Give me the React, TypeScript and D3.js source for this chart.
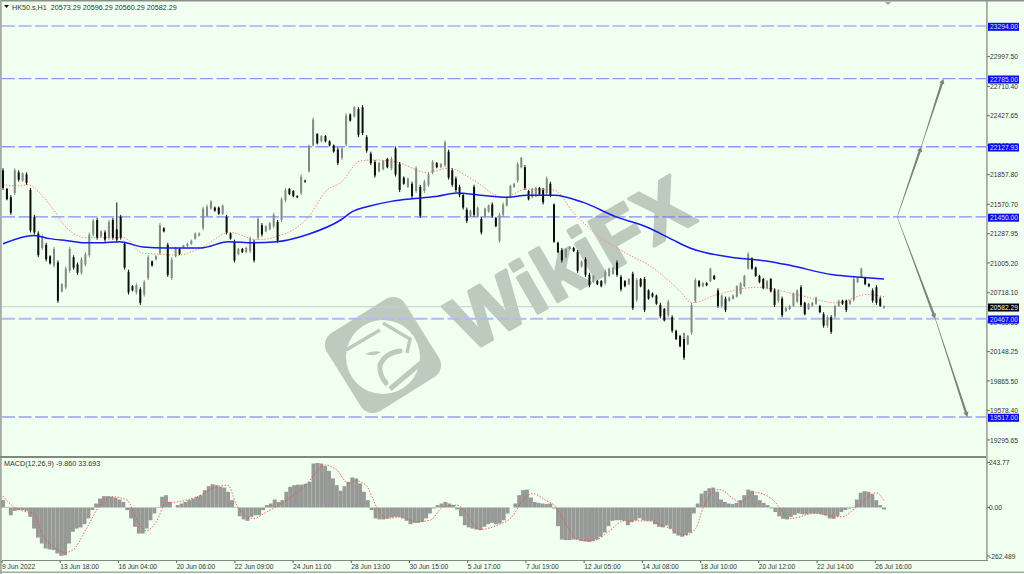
import React from "react";
import * as d3 from "d3";

const W = 1024, H = 574;

const titleText = "HK50.s,H1  20573.29 20596.29 20560.29 20582.29";
const macdText = "MACD(12,26,9) -9.860 33.693";

const highs = [
21920,21730,21660,21920,21900,21880,21880,21730,21470,21310,
21280,21200,21080,21160,21030,20810,20970,21160,21080,21010,
21060,21110,21300,21430,21440,21320,21320,21420,21440,21590,
21470,21210,20940,20790,20810,20770,20840,21080,21030,21080,
21390,21350,21200,21060,21160,21150,21180,21200,21230,21300,
21300,21550,21570,21610,21550,21550,21570,21470,21300,21230,
21150,21150,21160,21260,21230,21450,21390,21370,21400,21490,
21420,21640,21730,21730,21710,21660,21860,21810,22150,22410,
22260,22240,22240,22190,22150,22120,22130,22450,22450,22520,
22510,22530,22240,22080,22000,21980,22000,22020,22030,22130,
21980,21840,21830,21790,21940,21760,21810,21880,22000,21980,
21970,22190,22100,21920,21840,21760,21680,21540,21520,21760,
21550,21450,21540,21570,21590,21450,21490,21590,21640,21760,
21780,21980,22030,21950,21710,21730,21740,21740,21730,21840,
21790,21580,21210,21150,21150,21170,21160,21130,21030,21060,
20910,20890,20840,20840,20940,20960,20970,21030,20890,20840,
20860,20920,20860,20860,20870,20750,20720,20700,20620,20570,
20650,20500,20360,20310,20330,20310,20620,20860,20840,20820,
20820,20960,20890,20760,20700,20680,20680,20700,20790,20820,
20890,21110,21060,20970,20890,20860,20840,20860,20760,20750,
20680,20580,20600,20720,20750,20790,20630,20620,20630,20680,
20600,20530,20500,20500,20600,20650,20650,20650,20650,20870,
20870,20960,20870,20810,20760,20790,20680,20596];

const lows = [
21710,21610,21470,21660,21790,21790,21760,21300,21280,21060,
21130,21020,20990,20960,20620,20720,20750,20910,20940,20890,
20890,20970,21060,21260,21230,21250,21210,21230,21230,21200,
21230,20940,20700,20730,20700,20600,20680,20840,20970,21030,
21080,21300,20870,20840,21060,21080,21150,21160,21180,21230,
21260,21320,21450,21520,21500,21470,21470,21280,21230,21010,
21080,21100,21100,21100,21010,21230,21260,21300,21320,21340,
21200,21400,21590,21660,21640,21630,21660,21780,21880,22130,
22150,22170,22170,22130,22070,21950,22000,22130,22370,22410,
22220,22240,22070,21950,21830,21880,21900,21920,21900,21840,
21690,21760,21730,21630,21680,21440,21680,21740,21860,21920,
21920,21930,21810,21740,21690,21640,21520,21390,21450,21450,
21440,21280,21440,21490,21440,21350,21200,21450,21550,21630,
21730,21780,21920,21710,21610,21630,21640,21660,21570,21660,
21640,21200,21100,21010,21050,21130,21110,20910,20960,20870,
20770,20810,20790,20770,20790,20870,20890,20870,20730,20770,
20790,20550,20630,20770,20530,20650,20670,20600,20470,20440,
20480,20330,20260,20190,20070,20210,20310,20620,20770,20770,
20780,20820,20840,20570,20570,20530,20630,20650,20670,20700,
20770,20940,20940,20870,20810,20750,20750,20720,20580,20620,
20480,20530,20550,20580,20620,20580,20500,20550,20580,20600,
20520,20380,20380,20320,20470,20580,20600,20530,20600,20630,
20810,20860,20790,20770,20620,20600,20580,20560];

const opens = [
21900,21720,21640,21680,21880,21800,21860,21710,21450,21290,
21150,21180,21070,20980,21010,20730,20770,20930,21060,20990,
20910,20990,21080,21280,21420,21260,21300,21250,21420,21330,
21450,21190,20920,20780,20720,20750,20700,20860,21020,21040,
21100,21340,21180,20860,21070,21140,21155,21170,21190,21240,
21270,21340,21460,21530,21540,21540,21480,21450,21290,21210,
21090,21140,21110,21120,21210,21250,21370,21310,21330,21360,
21400,21420,21610,21720,21700,21650,21680,21800,21890,22140,
22250,22180,22230,22180,22140,22100,22020,22150,22440,22420,
22490,22510,22220,22060,21980,21890,21910,22010,21920,22110,
21960,21830,21740,21770,21700,21740,21700,21760,21880,21970,
21930,21950,22080,21900,21820,21740,21660,21520,21460,21740,
21450,21430,21450,21500,21570,21440,21220,21470,21560,21640,
21740,21800,21930,21930,21700,21640,21650,21730,21710,21680,
21770,21570,21200,21130,21060,21140,21150,21110,20970,21040,
20890,20820,20830,20830,20810,20880,20900,21010,20870,20830,
20800,20900,20650,20850,20850,20740,20710,20690,20600,20560,
20500,20480,20350,20300,20270,20220,20330,20640,20830,20780,
20810,20830,20880,20740,20590,20660,20640,20660,20680,20710,
20780,20950,21050,20960,20880,20850,20760,20850,20740,20640,
20660,20540,20560,20590,20630,20770,20620,20560,20590,20610,
20590,20510,20400,20480,20490,20590,20640,20640,20610,20650,
20820,20870,20860,20800,20740,20770,20660,20573];

const closes = [
21730,21620,21490,21900,21810,21870,21780,21320,21300,21080,
21260,21040,21000,21140,20640,20800,20950,21140,20960,20910,
21040,21090,21280,21410,21250,21310,21230,21400,21250,21230,
21250,20960,20720,20740,20790,20620,20820,21060,20980,21070,
21370,21310,20890,21040,21150,21090,21175,21190,21220,21290,
21290,21530,21550,21600,21510,21480,21560,21300,21240,21030,
21140,21110,21150,21240,21030,21430,21280,21360,21390,21470,
21220,21620,21710,21670,21650,21640,21840,21790,22130,22390,
22160,22230,22180,22140,22080,21970,22110,22430,22380,22510,
22240,22260,22090,21970,21850,21970,21990,21930,22010,21860,
21710,21770,21820,21650,21920,21460,21790,21860,21980,21930,
21960,22170,21830,21760,21710,21660,21540,21410,21510,21470,
21540,21300,21530,21560,21460,21360,21470,21570,21630,21750,
21770,21960,22020,21730,21620,21720,21730,21670,21590,21820,
21660,21210,21110,21030,21140,21160,21120,20930,21020,20890,
20790,20880,20800,20780,20920,20950,20960,20890,20750,20780,
20850,20570,20840,20780,20550,20660,20680,20610,20490,20450,
20630,20350,20270,20200,20090,20300,20600,20840,20780,20810,
20790,20950,20850,20590,20690,20550,20670,20690,20780,20810,
20880,21090,20950,20880,20820,20760,20830,20730,20600,20740,
20500,20570,20590,20710,20740,20600,20510,20610,20620,20670,
20530,20400,20480,20340,20590,20640,20610,20550,20640,20850,
20860,20950,20800,20780,20640,20620,20590,20582];

const slowMaBars = [0,8,12,16.5,21,25,30,36,42,46.5,51,58,64.5,70.5,78.5,87,90,94,100,107,112,117,123,130,135,142,149.5,158,166,172.5,177,187.5,197.5,203,214,220,227];
const slowMaPrices = [21190,21270,21240,21220,21200,21200,21210,21160,21150,21150,21150,21210,21200,21210,21280,21420,21500,21550,21600,21630,21650,21680,21660,21640,21660,21660,21590,21450,21350,21230,21150,21060,21020,20980,20890,20870,20850];

const fastMaBars = [0,3.5,6.5,9.5,13,16.5,21.5,25,31,36,40.5,45,51,58.5,65.5,70.5,78.5,83.5,87,92,95.5,101.5,109,115,121,129,135,142,147,154,160,167,174.5,177.5,184,194.5,204.5,215,222.5,227];
const fastMaPrices = [21760,21750,21760,21680,21520,21340,21250,21250,21250,21100,21090,21080,21150,21300,21230,21260,21440,21710,21780,21990,22000,21980,21880,21920,21810,21640,21720,21710,21490,21250,21110,20970,20730,20620,20700,20770,20700,20620,20700,20680];

const macdHist = [
37,3,-39,-17,-13,-13,-17,-47,-106,-151,-181,-206,-211,-214,-231,-243,-240,-181,-122,-106,
-100,-84,-55,-13,20,45,57,57,54,49,40,28,-13,-55,-97,-131,-131,-106,-64,-30,
3,54,62,28,0,12,20,28,37,45,54,62,87,107,117,112,104,100,79,37,
3,-44,-60,-67,-47,-39,-39,-13,12,20,40,28,37,79,104,112,115,115,120,129,
221,224,221,208,184,146,112,84,107,129,151,146,121,79,37,-13,-55,-60,-60,-55,
-50,-47,-47,-55,-67,-84,-77,-77,-72,-55,-30,-5,12,20,28,20,12,-10,-44,-89,
-100,-106,-111,-114,-97,-84,-77,-84,-80,-64,-30,0,20,62,87,90,50,28,23,20,
17,20,-5,-94,-161,-164,-164,-161,-161,-168,-171,-173,-168,-161,-147,-126,-94,-67,-64,-64,
-67,-89,-74,-64,-54,-64,-67,-67,-84,-97,-100,-90,-107,-131,-141,-147,-139,-127,-30,20,
70,84,97,100,79,40,28,20,17,23,37,62,90,84,62,37,23,12,-5,-23,
-44,-57,-60,-47,-37,-30,-34,-34,-30,-30,-30,-34,-40,-55,-57,-44,-23,-13,-5,3,
40,74,82,79,67,37,12,-9.86];

const signalBars = [0,3,5,8,10,13,16,18,21.5,25,28,32,34.5,37,39.5,42,45,50,55,58,60,64.5,68,73,78,83,86,89,91,93.5,96.5,99,102.5,106.5,110,113.5,117,123,128,131,134,136.5,140,142,146,148,152,156,160,166,170,176,178.5,180.5,184.5,190,194,198,203,209,216,220,225,227];
const signalValues = [57,0,-17,-30,-131,-198,-226,-214,-106,12,54,37,-64,-117,-72,23,28,54,104,112,20,-55,-22,37,112,213,188,121,134,112,-5,-55,-47,-72,-64,3,12,-110,-84,-50,37,70,34,12,-114,-161,-168,-122,-67,-67,-89,-139,-105,3,90,28,75,45,-55,-30,-47,3,74,33.693];

const levels = [23294, 22785, 22127.93, 21450, 20467, 19517];
const levelLabels = ["23294.00", "22785.00", "22127.93", "21450.00", "20467.00", "19517.00"];
const levelColors = ["#7F88FA", "#767EFC", "#8D98FC", "#6A72F0", "#AEBCF8", "#6A72DC"];
const levelWidths = [1, 1, 1.6, 1, 2, 1];

const priceTicks = [22997.5, 22710.4, 22427.65, 22142.95, 21857.8, 21570.7, 21287.95, 21005.2, 20718.1, 20435.35, 20148.25, 19865.5, 19578.4, 19295.65];
const lastPrice = 20582.29;

const timeTickBars = [0, 15, 30, 45, 60, 75, 90, 105, 120, 135, 150, 165, 180, 195, 210, 225];
const timeLabels = ["9 Jun 2022", "13 Jun 18:00", "16 Jun 04:00", "20 Jun 06:00", "22 Jun 09:00", "24 Jun 11:00", "28 Jun 13:00", "30 Jun 15:00", "5 Jul 17:00", "7 Jul 19:00", "12 Jul 05:00", "14 Jul 08:00", "18 Jul 10:00", "20 Jul 12:00", "22 Jul 14:00", "26 Jul 16:00"];

const macdTicks = [243.77, 0];
const macdMinLabel = -262.489;

const upArrowBars = [230.4, 236.6, 242.3];
const upArrowPrices = [21450, 22127.93, 22785];
const downArrowBars = [230.4, 240.2, 248.5];
const downArrowPrices = [21450, 20467, 19517];

const x = d3.scaleLinear().domain([0, 227]).range([3, 884]);
const candleX = d3.scaleLinear().domain([0, 78, 111, 141, 174, 227]).range([3, 309, 445, 554, 684, 884]);
const y = d3.scaleLinear().domain([19517, 23294]).range([417, 26]);
const my = d3.scaleLinear().domain([-262.489, 243.77]).range([559.7, 459]);

const lineOf = (bars: number[], vals: number[], sy: (v: number) => number) =>
  d3.line<number>().x((b) => x(b)).y((_, i) => sy(vals[i])).curve(d3.curveMonotoneX)(bars) || "";

const BG = "#F0FFF0";
const WM = "#BFCABF";
const font = "'Liberation Sans', Arial, sans-serif";

function taper(x0: number, y0: number, x1: number, y1: number) {
  const len = Math.hypot(x1 - x0, y1 - y0);
  const ux = (x1 - x0) / len, uy = (y1 - y0) / len;
  const nx = -uy, ny = ux;
  const w0 = 0.25, w1 = 1.2, h = 5, hw = 2.6;
  const bx = x1 - ux * h, by = y1 - uy * h;
  const p = [
    [x0 + nx * w0, y0 + ny * w0],
    [bx + nx * w1, by + ny * w1],
    [bx + nx * hw, by + ny * hw],
    [x1, y1],
    [bx - nx * hw, by - ny * hw],
    [bx - nx * w1, by - ny * w1],
    [x0 - nx * w0, y0 - ny * w0],
  ];
  return p.map((q) => q[0].toFixed(1) + "," + q[1].toFixed(1)).join(" ");
}

function Arrow({ bars, prices }: { bars: number[]; prices: number[] }) {
  return (
    <g fill="#7E827E">
      {bars.slice(1).map((b, i) => (
        <polygon key={i} points={taper(x(bars[i]), y(prices[i]), x(b), y(prices[i + 1]))} />
      ))}
    </g>
  );
}

function Watermark() {
  return (
    <g>
      <rect x={-46} y={-46} width={92} height={92} rx={14} fill={WM} transform="translate(383,355) rotate(-32)" />
      <g transform="translate(383,357)">
        <circle cx={0} cy={0} r={37} fill={BG} />
        <path d="M-37,-7 L-3,-27" fill="none" stroke={WM} strokeWidth={3.5} />
        <path d="M0,-34 L27,-18 L24,-4" fill="none" stroke={WM} strokeWidth={3.5} />
        <path d="M17,-6 Q2,-4 -3,8 Q-4,18 3,26" fill="none" stroke={WM} strokeWidth={5} strokeLinecap="round" />
        <path d="M38,6 L7,32" fill="none" stroke={WM} strokeWidth={5} />
        <path d="M-18,-3 Q-10,-7 -2,-5 Q-8,0 -18,-3 Z" fill={WM} />
      </g>
      <text
        transform="translate(469,353) rotate(-30)"
        fontFamily={font}
        fontWeight={700}
        fontSize={78}
        textLength={265}
        lengthAdjust="spacing"
        fill={WM}
        stroke={WM}
        strokeWidth={3}
        strokeLinejoin="round"
      >
        WikiFX
      </text>
    </g>
  );
}

export default function App() {
  return (
    <svg
      width={W}
      height={H}
      viewBox={`0 0 ${W} ${H}`}
      style={{ position: "absolute", left: 0, top: 0, display: "block", background: BG }}
    >
      <defs>
        <filter id="soft" x="-2%" y="-2%" width="104%" height="104%">
          <feGaussianBlur stdDeviation="0.35" />
        </filter>
      </defs>

      <rect x={0} y={0} width={W} height={1.5} fill="#8A8F8A" />
      <rect x={0} y={0} width={1.8} height={H} fill="#A4ACA4" />
      <rect x={0} y={571.5} width={W} height={1.5} fill="#A4ACA4" />

      <Watermark />

      <line x1={2} x2={986} y1={y(lastPrice)} y2={y(lastPrice)} stroke="#C6CFC6" strokeWidth={1} />

      {levels.map((l, i) => (
        <line key={l} x1={2} x2={986} y1={y(l)} y2={y(l)} stroke={levelColors[i]} strokeWidth={levelWidths[i]} strokeDasharray="13,3.5" />
      ))}

      <path d={lineOf(fastMaBars, fastMaPrices, y)} fill="none" stroke="#FF8270" strokeWidth={1} strokeDasharray="1.4,1.6" />

      <g filter="url(#soft)">
        {closes.map((c, i) => {
          const up = c >= opens[i];
          const col = up ? "#858A85" : "#111";
          const top = y(Math.max(c, opens[i]));
          const bot = y(Math.min(c, opens[i]));
          return (
            <g key={i}>
              <line x1={candleX(i)} x2={candleX(i)} y1={y(highs[i])} y2={y(lows[i])} stroke={col} strokeWidth={1} />
              <rect x={candleX(i) - 1} y={top} width={2} height={Math.max(bot - top, 1)} fill={col} />
            </g>
          );
        })}
      </g>

      <path d={lineOf(slowMaBars, slowMaPrices, y)} fill="none" stroke="#1818EC" strokeWidth={1.5} />

      <Arrow bars={upArrowBars} prices={upArrowPrices} />
      <Arrow bars={downArrowBars} prices={downArrowPrices} />

      <polygon points="885,2 891,2 888,5" fill="#A0A4A0" />
      <polygon points="4,5 9,5 6.5,8" fill="#111" />
      <text x={12} y={10} fontFamily={font} fontSize={7.2} fill="#333" xmlSpace="preserve">{titleText}</text>

      <rect x={0} y={456} width={987} height={2} fill="#808A80" />

      {macdHist.map((v, i) => (
        <line key={i} x1={x(i)} x2={x(i)} y1={my(0)} y2={my(v)} stroke="#969996" strokeWidth={3.9} />
      ))}
      <path d={lineOf(signalBars, signalValues, my)} fill="none" stroke="#F24A3C" strokeWidth={0.9} strokeDasharray="1.4,1.6" />
      <text x={4} y={466} fontFamily={font} fontSize={7.2} fill="#333">{macdText}</text>

      <rect x={986} y={1} width={1.8} height={560} fill="#A4ACA4" />
      <rect x={1.8} y={560} width={986} height={1} fill="#808A80" />

      {priceTicks.map((t) => (
        <g key={t}>
          <line x1={987} x2={990} y1={y(t)} y2={y(t)} stroke="#666" strokeWidth={1} />
          <text x={990} y={y(t) + 2.6} fontFamily={font} fontSize={6.7} fill="#333">{t.toFixed(2)}</text>
        </g>
      ))}
      {levels.map((l, i) => (
        <g key={l}>
          <rect x={988} y={y(l) - 3.2} width={31} height={8} fill="#0C0CE6" />
          <text x={990} y={y(l) + 3.4} fontFamily={font} fontSize={6.7} fill="#D8E4FF">{levelLabels[i]}</text>
        </g>
      ))}
      <rect x={988} y={y(lastPrice) - 3.2} width={31} height={8} fill="#000" />
      <text x={990} y={y(lastPrice) + 3.4} fontFamily={font} fontSize={6.7} fill="#fff">{lastPrice.toFixed(2)}</text>

      {macdTicks.map((t) => (
        <g key={t}>
          <line x1={987} x2={990} y1={t === 0 ? my(0) : 462.5} y2={t === 0 ? my(0) : 462.5} stroke="#666" />
          <text x={989} y={(t === 0 ? my(0) : 462.5) + 2.6} fontFamily={font} fontSize={6.7} fill="#333">{t.toFixed(2)}</text>
        </g>
      ))}
      <line x1={987} x2={990} y1={556} y2={556} stroke="#666" />
      <text x={989} y={558.6} fontFamily={font} fontSize={6.7} fill="#333">{macdMinLabel.toFixed(3)}</text>

      {timeTickBars.map((b, i) => (
        <g key={b}>
          <line x1={x(b) - 1} x2={x(b) - 1} y1={561} y2={563} stroke="#555" />
          <text x={x(b) - 1} y={569} fontFamily={font} fontSize={6.7} fill="#333">{timeLabels[i]}</text>
        </g>
      ))}
    </svg>
  );
}
